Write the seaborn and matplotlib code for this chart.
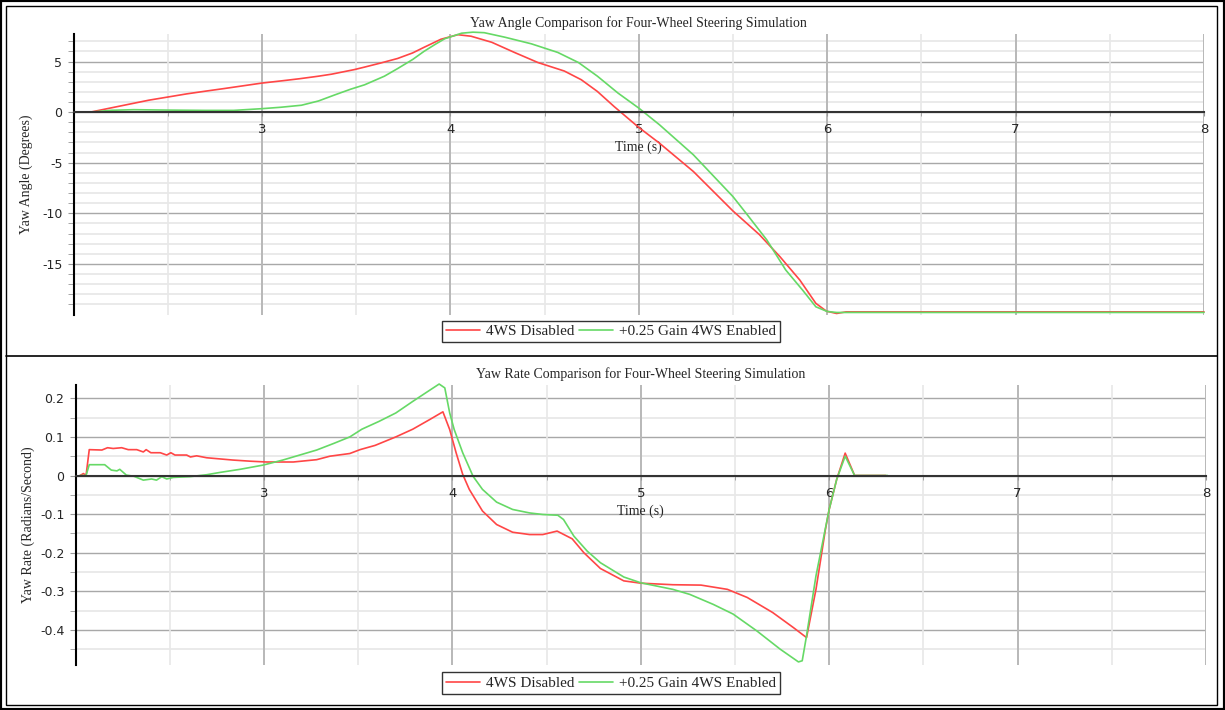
import numpy as np
import pandas as pd
import matplotlib
matplotlib.use("Agg")
import matplotlib.pyplot as plt
import seaborn as sns
from matplotlib.lines import Line2D
from matplotlib.patches import Rectangle
from matplotlib.ticker import FixedLocator, FuncFormatter

# ---------------- data ----------------
series_names = ["4WS Disabled", "+0.25 Gain 4WS Enabled"]
series_colors = ["#ff4646", "#66d966"]

# Yaw angle (degrees)
t_angle_off = [2.09, 2.2, 2.3, 2.4, 2.51, 2.6, 2.7, 2.8, 2.9, 3.0, 3.1, 3.2, 3.3, 3.37,
               3.49, 3.545, 3.63, 3.72, 3.8, 3.86, 3.95, 4.04, 4.11, 4.22, 4.34, 4.465,
               4.605, 4.695, 4.78, 4.87, 4.996, 5.11, 5.29, 5.5, 5.64, 5.75, 5.855, 5.94,
               5.996, 6.05, 6.1, 8.0]
yaw_angle_off = [0.0, 0.42, 0.8, 1.18, 1.52, 1.8, 2.07, 2.33, 2.6, 2.87, 3.08, 3.3, 3.55, 3.75,
                 4.2, 4.45, 4.85, 5.3, 5.85, 6.4, 7.2, 7.65, 7.5, 6.9, 5.9, 4.9,
                 4.06, 3.2, 2.05, 0.54, -1.45, -3.07, -5.87, -9.77, -12.1, -14.3, -16.6, -18.9,
                 -19.67, -19.9, -19.74, -19.74]

t_angle_on = [2.09, 2.2, 2.32, 2.5, 2.7, 2.85, 3.0, 3.1, 3.21, 3.3, 3.385, 3.47, 3.545, 3.65,
              3.72, 3.8, 3.86, 3.92, 3.97, 4.06, 4.12, 4.18, 4.29, 4.43, 4.57, 4.68, 4.78,
              4.89, 5.0, 5.11, 5.29, 5.5, 5.57, 5.68, 5.78, 5.87, 5.94, 6.0, 6.05, 8.0]
yaw_angle_on = [0.0, 0.18, 0.24, 0.2, 0.17, 0.17, 0.34, 0.48, 0.68, 1.1, 1.69, 2.26, 2.7, 3.55,
                4.3, 5.2, 6.0, 6.7, 7.25, 7.8, 7.9, 7.85, 7.4, 6.75, 5.9, 4.9, 3.56,
                1.88, 0.4, -1.25, -4.22, -8.35, -10.0, -12.64, -15.6, -17.6, -19.24, -19.7, -19.8, -19.8]

# Yaw rate (rad/s)
t_rate_off = [2.024, 2.042, 2.056, 2.073, 2.14, 2.17, 2.2, 2.245, 2.28, 2.325, 2.36, 2.375, 2.4,
              2.45, 2.484, 2.506, 2.528, 2.59, 2.61, 2.643, 2.696, 2.836, 2.93, 3.014, 3.156,
              3.28, 3.35, 3.456, 3.51, 3.59, 3.70, 3.79, 3.88, 3.95, 3.986, 4.02, 4.055, 4.09,
              4.16, 4.235, 4.32, 4.41, 4.48, 4.556, 4.636, 4.698, 4.786, 4.91, 5.0, 5.17, 5.32,
              5.46, 5.565, 5.70, 5.81, 5.88, 5.93, 5.98, 6.0, 6.04, 6.085, 6.135, 6.3]
yaw_rate_off = [0.0, 0.005, 0.0, 0.067, 0.066, 0.072, 0.07, 0.072, 0.067, 0.067, 0.061, 0.067, 0.059,
                0.059, 0.053, 0.059, 0.053, 0.053, 0.048, 0.051, 0.046, 0.04, 0.037, 0.035, 0.035,
                0.041, 0.05, 0.057, 0.067, 0.078, 0.1, 0.12, 0.145, 0.165, 0.119, 0.059, 0.003, -0.036,
                -0.092, -0.127, -0.147, -0.153, -0.153, -0.144, -0.164, -0.2, -0.241, -0.273, -0.279,
                -0.283, -0.284, -0.295, -0.316, -0.355, -0.394, -0.42, -0.295, -0.14, -0.088, -0.01,
                0.058, 0.0, 0.0]

t_rate_on = [2.024, 2.056, 2.073, 2.155, 2.19, 2.22, 2.235, 2.27, 2.31, 2.36, 2.404, 2.43, 2.458,
             2.484, 2.519, 2.607, 2.696, 2.767, 2.873, 2.996, 3.1, 3.19, 3.28, 3.37, 3.456, 3.52,
             3.61, 3.70, 3.79, 3.88, 3.93, 3.96, 3.986, 4.01, 4.055, 4.11, 4.16, 4.235, 4.32, 4.41,
             4.48, 4.56, 4.59, 4.645, 4.716, 4.786, 4.91, 5.0, 5.17, 5.26, 5.385, 5.49, 5.617, 5.74,
             5.837, 5.857, 5.88, 5.93, 6.0, 6.04, 6.085, 6.135, 6.31]
yaw_rate_on = [0.0, 0.0, 0.028, 0.028, 0.014, 0.012, 0.016, 0.001, -0.002, -0.012, -0.009, -0.012, -0.003,
               -0.009, -0.005, -0.003, 0.002, 0.008, 0.016, 0.027, 0.04, 0.053, 0.066, 0.083, 0.1, 0.12,
               0.14, 0.162, 0.192, 0.221, 0.237, 0.227, 0.162, 0.119, 0.059, -0.002, -0.036, -0.069,
               -0.088, -0.097, -0.101, -0.103, -0.114, -0.157, -0.196, -0.226, -0.263, -0.278, -0.295,
               -0.308, -0.334, -0.359, -0.403, -0.45, -0.483, -0.48, -0.415, -0.26, -0.088, -0.01,
               0.05, 0.0, 0.0]

x_ticks = [3, 4, 5, 6, 7, 8]
angle_ticks = [-15, -10, -5, 0, 5]
rate_ticks = [-0.4, -0.3, -0.2, -0.1, 0.0, 0.1, 0.2]

# ---------------- style ----------------
sns.set_style("white")
plt.rcParams["font.family"] = ["DejaVu Sans"]
plt.rcParams["axes.unicode_minus"] = False
SERIF = "Liberation Serif"

W, H = 1225, 710
fig = plt.figure(figsize=(W / 100, H / 100), dpi=100)


def frac(l, t, r, b):
    return [l / W, 1 - b / H, (r - l) / W, (b - t) / H]


ax1 = fig.add_axes(frac(73.5, 34, 1204, 315))
ax2 = fig.add_axes(frac(75.5, 385, 1206, 665))


def make_df(t_a, v_a, t_b, v_b):
    return pd.concat([
        pd.DataFrame({"t": t_a, "v": v_a, "series": series_names[0]}),
        pd.DataFrame({"t": t_b, "v": v_b, "series": series_names[1]}),
    ], ignore_index=True)


palette = dict(zip(series_names, series_colors))

df_angle = make_df(t_angle_off, yaw_angle_off, t_angle_on, yaw_angle_on)
df_rate = make_df(t_rate_off, yaw_rate_off, t_rate_on, yaw_rate_on)

sns.lineplot(data=df_angle, x="t", y="v", hue="series", hue_order=series_names,
             palette=palette, estimator=None, legend=False, ax=ax1, linewidth=1.2)
sns.lineplot(data=df_rate, x="t", y="v", hue="series", hue_order=series_names,
             palette=palette, estimator=None, legend=False, ax=ax2, linewidth=1.2)
for ax in (ax1, ax2):
    for ln in ax.get_lines():
        ln.set_clip_on(False)


def style(ax, ylim, majors, minors, ylabel, title, xlabel_y):
    ax.set_xlim(2, 8)
    ax.set_ylim(*ylim)
    ax.xaxis.set_major_locator(FixedLocator(x_ticks))
    ax.xaxis.set_minor_locator(FixedLocator([2.5, 3.5, 4.5, 5.5, 6.5, 7.5]))
    ax.yaxis.set_major_locator(FixedLocator(majors))
    ax.yaxis.set_minor_locator(FixedLocator(minors))
    ax.set_xticklabels([str(v) for v in x_ticks])
    ax.set_axisbelow(True)
    # horizontal grid drawn first, vertical grid on top of it
    ax.yaxis.set_zorder(0.3)
    ax.xaxis.set_zorder(0.4)
    ax.grid(which="major", axis="y", color="#a8a8a8", lw=1.0)
    ax.grid(which="minor", axis="y", color="#e6e6e6", lw=1.2)
    ax.grid(which="major", axis="x", color="#b8b8b8", lw=1.4)
    ax.grid(which="minor", axis="x", color="#e8e8e8", lw=1.2)
    for s in ("top", "right"):
        ax.spines[s].set_visible(False)
    ax.spines["bottom"].set_position(("data", 0))
    ax.spines["bottom"].set_color("#333333")
    ax.spines["bottom"].set_linewidth(1.5)
    ax.spines["left"].set_color("black")
    ax.spines["left"].set_linewidth(1.5)
    ax.tick_params(axis="y", which="both", direction="out", length=4, color="#999999",
                   labelsize=9, pad=4, left=True)
    ax.tick_params(axis="x", which="both", direction="out", length=3, color="#999999",
                   labelsize=9.5, pad=5, bottom=True)
    ax.set_title(title, fontfamily=SERIF, fontsize=10, pad=5)
    ax.set_ylabel(ylabel, fontfamily=SERIF, fontsize=10)
    ax.yaxis.set_label_coords(-0.036, 0.5)
    ax.set_xlabel("Time (s)", fontfamily=SERIF, fontsize=10)
    ax.xaxis.set_label_coords(0.5, xlabel_y, transform=ax.get_yaxis_transform())


angle_minor = [v for v in range(-19, 8) if v % 5 != 0]
rate_minor = [-0.45, -0.35, -0.25, -0.15, -0.05, 0.05, 0.15]

style(ax1, (-20.05, 7.72), angle_ticks, angle_minor, "Yaw Angle (Degrees)",
      "Yaw Angle Comparison for Four-Wheel Steering Simulation", -2.8)
style(ax2, (-0.491, 0.2345), rate_ticks, rate_minor, "Yaw Rate (Radians/Second)",
      "Yaw Rate Comparison for Four-Wheel Steering Simulation", -0.074)
ax2.yaxis.set_major_formatter(FuncFormatter(lambda v, p: "0" if abs(v) < 1e-9 else f"{v:.1f}"))

# legends
handles = [Line2D([], [], color=c, lw=1.2) for c in series_colors]
for cy in (331.5, 683):
    leg = fig.legend(handles, series_names, loc="center", bbox_to_anchor=(611 / W, 1 - cy / H),
                     ncol=2, frameon=True, fancybox=False, edgecolor="#333333", framealpha=1,
                     prop={"family": SERIF, "size": 11}, handlelength=2.2, handletextpad=0.4,
                     columnspacing=0.35, borderpad=0.25, borderaxespad=0)
    leg.get_frame().set_linewidth(1.0)

# panel frames
fig.add_artist(Rectangle((0, 0), 1, 1, transform=fig.transFigure, fill=False,
                         ec="black", lw=3))
fig.add_artist(Rectangle((6 / W, 5 / H), (1217 - 6) / W, (705 - 6) / H, transform=fig.transFigure,
                         fill=False, ec="black", lw=1.0))
fig.add_artist(Line2D([6 / W, 1217 / W], [1 - 356 / H, 1 - 356 / H], transform=fig.transFigure,
                      color="black", lw=1.2))

fig.savefig("out.png", dpi=100)
